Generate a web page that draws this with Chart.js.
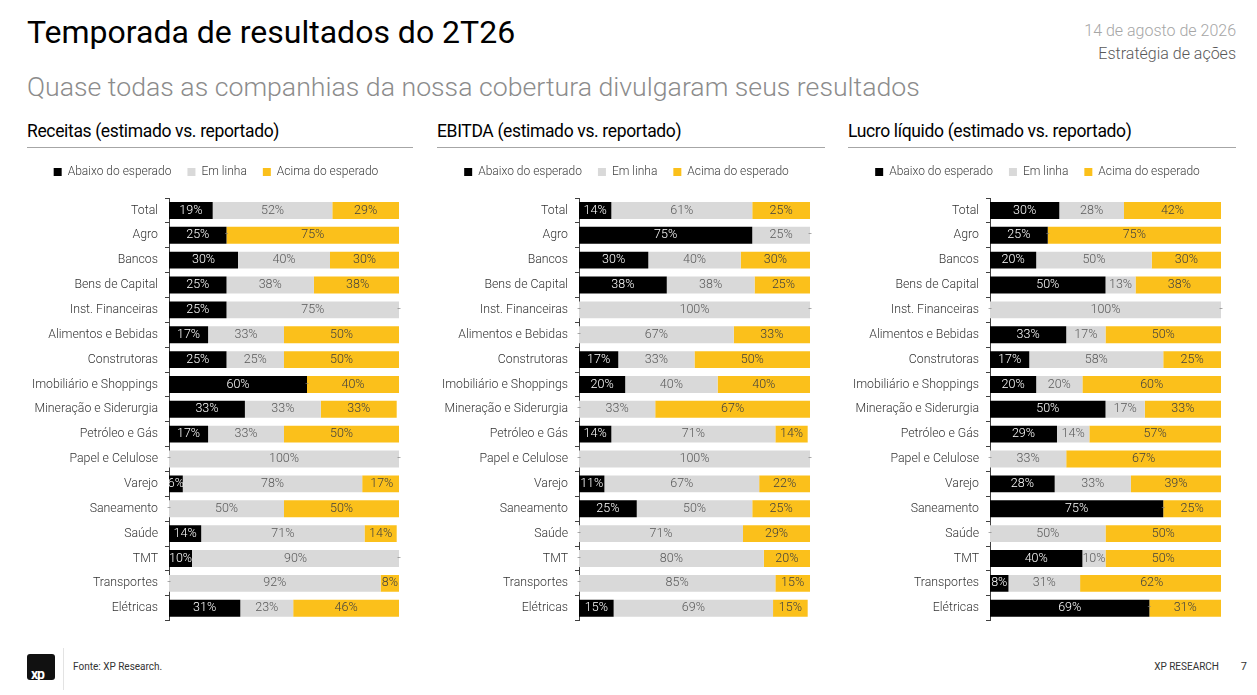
<!DOCTYPE html>
<html lang="pt-BR">
<head>
<meta charset="utf-8">
<title>Temporada de resultados do 2T26</title>
<script src="https://cdn.jsdelivr.net/npm/chart.js@4.4.1/dist/chart.umd.min.js"></script>
<style>
  html, body { margin: 0; padding: 0; background: #fff; }
  body { width: 1257px; height: 695px; position: relative; overflow: hidden; font-family: Roboto, "Noto Sans", sans-serif; }
  .abs { position: absolute; white-space: nowrap; }
  #title { left: 27px; top: 13px; font-size: 32px; color: #000; font-weight: 400; }
  #subtitle { left: 27px; top: 71px; font-size: 26.7px; color: #8c8c8c; font-weight: 300; }
  #date { right: 21px; top: 21px; font-size: 16px; color: #a6a6a6; font-weight: 300; }
  #area { right: 21px; top: 44px; font-size: 16px; color: #595959; font-weight: 300; }
  .sec { top: 121px; font-size: 17.5px; color: #000; letter-spacing: -0.35px; }
  .rule { top: 147px; height: 1px; background: #a6a6a6; }
  .box { position: absolute; }
  #logo { left: 27px; top: 654px; width: 28px; height: 26px; background: #111; border-radius: 3px; }
  #logo span { position: absolute; left: 4px; bottom: -2px; color: #fff; font-weight: 700; font-size: 14px; letter-spacing: -1px; }
  #vline { left: 63px; top: 648px; width: 1px; height: 42px; background: #e3e3e3; }
  #src { left: 73px; top: 661px; font-size: 10px; color: #333; }
  #brand { right: 38px; top: 661px; font-size: 10px; color: #333; }
  #page { right: 10px; top: 660px; font-size: 11px; color: #333; }
</style>
</head>
<body>
<div class="abs" id="title">Temporada de resultados do 2T26</div>
<div class="abs" id="subtitle">Quase todas as companhias da nossa cobertura divulgaram seus resultados</div>
<div class="abs" id="date">14 de agosto de 2026</div>
<div class="abs" id="area">Estratégia de ações</div>

<div class="abs sec" style="left:27px">Receitas (estimado vs. reportado)</div>
<div class="abs sec" style="left:437px">EBITDA (estimado vs. reportado)</div>
<div class="abs sec" style="left:848px">Lucro líquido (estimado vs. reportado)</div>
<div class="abs rule" style="left:27px;width:386px"></div>
<div class="abs rule" style="left:437px;width:388px"></div>
<div class="abs rule" style="left:848px;width:388px"></div>

<div class="box" style="left:17px;top:150px;width:396px;height:485px"><canvas id="c1"></canvas></div>
<div class="box" style="left:427px;top:150px;width:398px;height:485px"><canvas id="c2"></canvas></div>
<div class="box" style="left:838px;top:150px;width:398px;height:485px"><canvas id="c3"></canvas></div>

<div class="abs" id="logo"><span>xp</span></div>
<div class="abs" id="vline"></div>
<div class="abs" id="src">Fonte: XP Research.</div>
<div class="abs" id="brand">XP RESEARCH</div>
<div class="abs" id="page">7</div>

<script>
const categories = ["Total", "Agro", "Bancos", "Bens de Capital", "Inst. Financeiras",
  "Alimentos e Bebidas", "Construtoras", "Imobiliário e Shoppings", "Mineração e Siderurgia",
  "Petróleo e Gás", "Papel e Celulose", "Varejo", "Saneamento", "Saúde", "TMT",
  "Transportes", "Elétricas"];
const seriesNames = ["Abaixo do esperado", "Em linha", "Acima do esperado"];

// Receitas
const receitasAbaixo = [19, 25, 30, 25, 25, 17, 25, 60, 33, 17, 0, 6, 0, 14, 10, 0, 31];
const receitasLinha  = [52, 0, 40, 38, 75, 33, 25, 0, 33, 33, 100, 78, 50, 71, 90, 92, 23];
const receitasAcima  = [29, 75, 30, 38, 0, 50, 50, 40, 33, 50, 0, 17, 50, 14, 0, 8, 46];

// EBITDA
const ebitdaAbaixo = [14, 75, 30, 38, 0, 0, 17, 20, 0, 14, 0, 11, 25, 0, 0, 0, 15];
const ebitdaLinha  = [61, 25, 40, 38, 100, 67, 33, 40, 33, 71, 100, 67, 50, 71, 80, 85, 69];
const ebitdaAcima  = [25, 0, 30, 25, 0, 33, 50, 40, 67, 14, 0, 22, 25, 29, 20, 15, 15];

// Lucro liquido
const lucroAbaixo = [30, 25, 20, 50, 0, 33, 17, 20, 50, 29, 0, 28, 75, 0, 40, 8, 69];
const lucroLinha  = [28, 0, 50, 13, 100, 17, 58, 20, 17, 14, 33, 33, 0, 50, 10, 31, 0];
const lucroAcima  = [42, 75, 30, 38, 0, 50, 25, 60, 33, 57, 67, 39, 25, 50, 50, 62, 31];

const barColors = ["#000000", "#d9d9d9", "#fbc01b"];
const labelColors = ["#ffffff", "#595959", "#404040"];

Chart.defaults.font.family = "Roboto, 'Noto Sans', sans-serif";
Chart.defaults.color = "#404040";

// writes the value in the middle of each segment, "-" for zeros
const segmentLabels = {
  id: "segmentLabels",
  afterDatasetsDraw(chart) {
    const ctx = chart.ctx;
    ctx.save();
    ctx.font = "300 12.5px Roboto, 'Noto Sans', sans-serif";
    ctx.textAlign = "center";
    ctx.textBaseline = "middle";
    chart.data.datasets.forEach((ds, i) => {
      const meta = chart.getDatasetMeta(i);
      meta.data.forEach((bar, j) => {
        const v = ds.data[j];
        const p = bar.getProps(["x", "y", "base"], true);
        const cx = Math.min((p.x + p.base) / 2, chart.chartArea.right);
        if (v === 0) {
          ctx.fillStyle = "#808080";
          ctx.fillText("-", cx, p.y);
        } else {
          ctx.fillStyle = labelColors[i];
          ctx.fillText(v + "%", cx, p.y);
        }
      });
    });
    ctx.restore();
  }
};

function makeChart(id, abaixo, linha, acima, padRight) {
  const rows = [abaixo, linha, acima];
  new Chart(document.getElementById(id), {
    type: "bar",
    data: {
      labels: categories,
      datasets: rows.map((vals, i) => ({
        label: seriesNames[i],
        data: vals,
        backgroundColor: barColors[i],
        borderWidth: 0,
        categoryPercentage: 1,
        barPercentage: 0.68,
        clip: 0
      }))
    },
    options: {
      indexAxis: "y",
      responsive: true,
      maintainAspectRatio: false,
      animation: false,
      layout: { padding: { left: 16, right: padRight, top: 0, bottom: 0 } },
      plugins: {
        tooltip: { enabled: false },
        legend: {
          position: "top",
          labels: {
            boxWidth: 8,
            boxHeight: 8,
            padding: 16,
            color: "#404040",
            font: { size: 12, weight: "300" }
          }
        }
      },
      scales: {
        x: {
          position: "top",
          stacked: true,
          min: 0,
          max: 100,
          ticks: { display: false },
          grid: { display: false },
          border: { display: false },
          afterFit: s => { s.height = 10; }
        },
        y: {
          stacked: true,
          afterFit: s => { s.width = 136; },
          ticks: { color: "#333333", font: { size: 12.3, weight: "300" }, padding: 7 },
          grid: {
            offset: true,
            drawOnChartArea: false,
            drawTicks: true,
            tickLength: 4,
            color: "#404040"
          },
          border: { display: true, color: "#404040", width: 1 }
        }
      }
    },
    plugins: [segmentLabels]
  });
}

makeChart("c1", receitasAbaixo, receitasLinha, receitasAcima, 14);
makeChart("c2", ebitdaAbaixo, ebitdaLinha, ebitdaAcima, 15);
makeChart("c3", lucroAbaixo, lucroLinha, lucroAcima, 15);
</script>
</body>
</html>
